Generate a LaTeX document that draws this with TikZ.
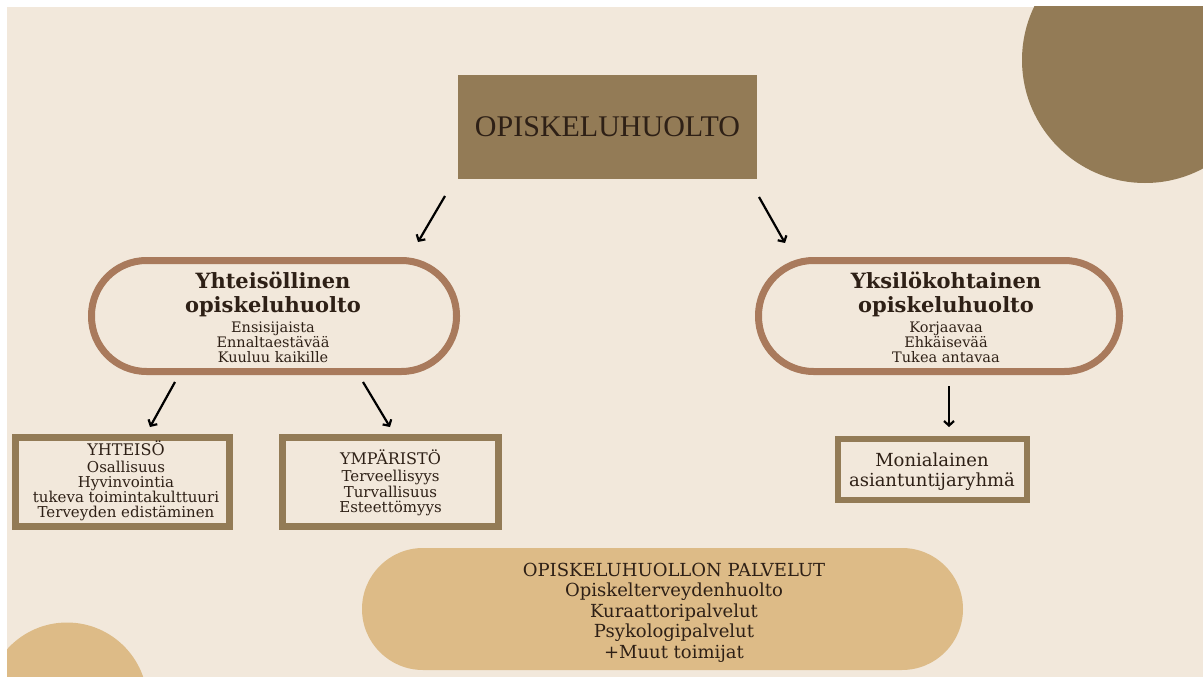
\documentclass[tikz,border=0pt]{standalone}
\usepackage{fontspec}
\setmainfont{DejaVu Serif}
\newfontfamily\titlefont{Liberation Serif}
\usetikzlibrary{arrows.meta,calc}
\definecolor{bgc}{HTML}{F2E8DB}
\definecolor{brownc}{HTML}{937B56}
\definecolor{pillc}{HTML}{A97A5C}
\definecolor{sandc}{HTML}{DDBB87}
\definecolor{inkc}{HTML}{2E2016}
\newcommand{\hfnt}{\fontsize{21}{24}\selectfont\bfseries}
\begin{document}
\begin{tikzpicture}[x=1pt,y=-1pt,
  every node/.style={outer sep=0pt},
  pillbox/.style={rectangle, draw=pillc, line width=7pt, fill=bgc, rounded corners=55pt, minimum height=111pt},
  framebox/.style={rectangle, draw=brownc, line width=7pt, fill=bgc},
  txt/.style={align=center, inner sep=0pt, anchor=north, text=inkc},
  arr/.style={line width=2.2pt, black, -{Straight Barb[length=4.5pt,width=10pt]}}
]
\useasboundingbox (0,0) rectangle (1203,677);
\fill[white] (0,0) rectangle (1203,677);
\fill[bgc] (7,7) rectangle (1203,677);
\begin{scope}
  \clip (7,7) rectangle (1203,677);
  \fill[brownc] (1145,60) circle[radius=123pt];
  \fill[sandc] (67,703) circle[radius=80.5pt];
\end{scope}

% top
\node[rectangle, fill=brownc, minimum width=299pt, minimum height=104pt, inner sep=0pt, text=inkc]
  (top) at (607.5,127) {\titlefont\fontsize{30}{36}\selectfont OPISKELUHUOLTO};

% pills
\node[pillbox, minimum width=365pt] (lp) at (274,316) {};
\node[pillbox, minimum width=361pt] (rp) at (939,316) {};
\node[txt, font={\fontsize{14.5}{15}\selectfont\lineskiplimit=-100pt}] (lpt) at (273,272)
  {{\hfnt Yhteisöllinen}\\[9pt]{\hfnt opiskeluhuolto}\\[5pt]Ensisijaista\\Ennaltaestävää\\Kuuluu kaikille};
\node[txt, font={\fontsize{14.5}{15}\selectfont\lineskiplimit=-100pt}] (rpt) at (946,272)
  {{\hfnt Yksilökohtainen}\\[9pt]{\hfnt opiskeluhuolto}\\[5pt]Korjaavaa\\Ehkäisevää\\Tukea antavaa};

% boxes
\node[framebox, minimum width=214pt, minimum height=89pt] (yh) at (122.5,482) {};
\node[framebox, minimum width=216pt, minimum height=89pt] (ym) at (390.5,482) {};
\node[framebox, line width=6pt, minimum width=189pt, minimum height=61pt] (mo) at (932.5,469.5) {};
\node[txt, font={\fontsize{15}{15}\selectfont\lineskiplimit=-100pt}] (yht) at (126,441)
  {{\fontsize{16}{15}\selectfont YHTEISÖ}\\[2pt]Osallisuus\\Hyvinvointia\\tukeva toimintakulttuuri\\Terveyden edistäminen};
\node[txt, font={\fontsize{15}{15.5}\selectfont\lineskiplimit=-100pt}] (ymt) at (390.5,450)
  {{\fontsize{16}{15}\selectfont YMPÄRISTÖ}\\[1.5pt]Terveellisyys\\Turvallisuus\\Esteettömyys};
\node[txt, font={\fontsize{18}{20}\selectfont\lineskiplimit=-100pt}] (mot) at (932,453)
  {Monialainen\\asiantuntijaryhmä};

% bottom pill
\node[rectangle, fill=sandc, rounded corners=61pt, minimum width=601pt, minimum height=122pt] (bp) at (662.5,609) {};
\node[txt, font={\fontsize{18}{20.5}\selectfont\lineskiplimit=-100pt}] (bpt) at (674,563)
  {OPISKELUHUOLLON PALVELUT\\Opiskelterveydenhuolto\\Kuraattoripalvelut\\Psykologipalvelut\\+Muut toimijat};

% arrow end points
\coordinate (a1s) at ($(top.south west)+(-13,17)$);
\coordinate (a1e) at ($(lp.north)+(144,-18.5)$);
\coordinate (a2s) at ($(top.south east)+(2,18)$);
\coordinate (a2e) at ($(rp.north)+(-154,-17.5)$);
\coordinate (a3s) at ($(lp.south)+(-99,10.5)$);
\coordinate (a3e) at ($(yh.north)+(27.5,-10.5)$);
\coordinate (a4s) at ($(lp.south)+(89,10.5)$);
\coordinate (a4e) at ($(ym.north)+(-0.5,-10.5)$);
\coordinate (a5s) at ($(rp.south)+(10,14.5)$);
\coordinate (a5e) at ($(mo.north)+(16.5,-12)$);
\draw[arr] (a1s) -- (a1e);
\draw[arr] (a2s) -- (a2e);
\draw[arr] (a3s) -- (a3e);
\draw[arr] (a4s) -- (a4e);
\draw[arr] (a5s) -- (a5e);
\end{tikzpicture}
\end{document}
